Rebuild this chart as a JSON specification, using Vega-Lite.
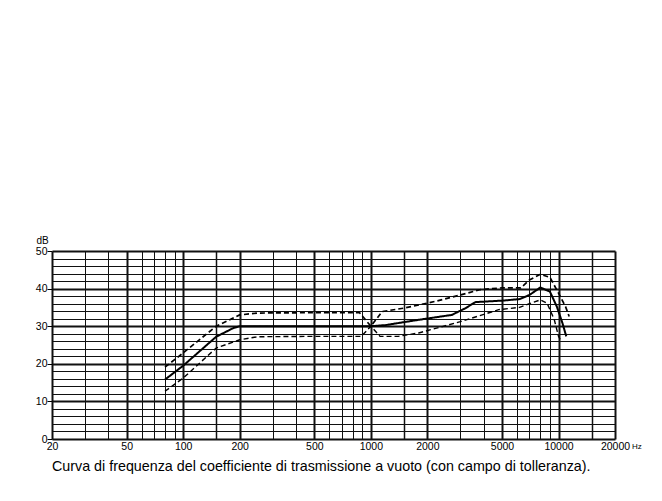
{
  "$schema": "https://vega.github.io/schema/vega-lite/v6.json",
  "autosize": {"type": "none"},
  "width": 563,
  "height": 188,
  "padding": {"left": 52, "top": 251, "right": 47, "bottom": 62},
  "background": "white",
  "config": {
    "view": {"stroke": null},
    "font": "Liberation Sans",
    "axis": {"labelFont": "Liberation Sans", "labelColor": "#000", "titleFont": "Liberation Sans"}
  },
  "title": {
    "text": "Curva di frequenza del coefficiente di trasmissione a vuoto (con campo di tolleranza).",
    "orient": "bottom",
    "anchor": "start",
    "frame": "group",
    "offset": 8,
    "fontSize": 14.3,
    "fontWeight": "normal",
    "color": "#000",
    "font": "Liberation Sans"
  },
  "datasets": {
    "curve": [
      {"serie": "nominale", "f": 80, "db": 15.8},
      {"serie": "nominale", "f": 100, "db": 19.5},
      {"serie": "nominale", "f": 150, "db": 27.2},
      {"serie": "nominale", "f": 185, "db": 29.5},
      {"serie": "nominale", "f": 200, "db": 30},
      {"serie": "nominale", "f": 500, "db": 30},
      {"serie": "nominale", "f": 1000, "db": 30},
      {"serie": "nominale", "f": 1200, "db": 30.3},
      {"serie": "nominale", "f": 1800, "db": 31.7},
      {"serie": "nominale", "f": 2700, "db": 33},
      {"serie": "nominale", "f": 3200, "db": 34.8},
      {"serie": "nominale", "f": 3600, "db": 36.4},
      {"serie": "nominale", "f": 5000, "db": 36.8},
      {"serie": "nominale", "f": 6200, "db": 37.2},
      {"serie": "nominale", "f": 7000, "db": 38.3},
      {"serie": "nominale", "f": 8000, "db": 40.3},
      {"serie": "nominale", "f": 9000, "db": 39.2},
      {"serie": "nominale", "f": 9800, "db": 35.2},
      {"serie": "nominale", "f": 10500, "db": 30.8},
      {"serie": "nominale", "f": 11000, "db": 27.3},
      {"serie": "superiore", "f": 80, "db": 19.1},
      {"serie": "superiore", "f": 100, "db": 22.9},
      {"serie": "superiore", "f": 150, "db": 30},
      {"serie": "superiore", "f": 200, "db": 33},
      {"serie": "superiore", "f": 250, "db": 33.5},
      {"serie": "superiore", "f": 500, "db": 33.6},
      {"serie": "superiore", "f": 870, "db": 33.6},
      {"serie": "superiore", "f": 1000, "db": 30},
      {"serie": "superiore", "f": 1150, "db": 33.9},
      {"serie": "superiore", "f": 1500, "db": 34.8},
      {"serie": "superiore", "f": 2200, "db": 36.6},
      {"serie": "superiore", "f": 3000, "db": 38.3},
      {"serie": "superiore", "f": 3800, "db": 39.7},
      {"serie": "superiore", "f": 5000, "db": 40.2},
      {"serie": "superiore", "f": 6300, "db": 40.2},
      {"serie": "superiore", "f": 7000, "db": 42.3},
      {"serie": "superiore", "f": 8000, "db": 43.8},
      {"serie": "superiore", "f": 9000, "db": 43},
      {"serie": "superiore", "f": 10000, "db": 38.8},
      {"serie": "superiore", "f": 10900, "db": 35.2},
      {"serie": "superiore", "f": 11400, "db": 32.6},
      {"serie": "inferiore", "f": 80, "db": 12.7},
      {"serie": "inferiore", "f": 100, "db": 16.2},
      {"serie": "inferiore", "f": 150, "db": 24.2},
      {"serie": "inferiore", "f": 200, "db": 26.4},
      {"serie": "inferiore", "f": 250, "db": 27.2},
      {"serie": "inferiore", "f": 500, "db": 27.3},
      {"serie": "inferiore", "f": 890, "db": 27.3},
      {"serie": "inferiore", "f": 1000, "db": 30},
      {"serie": "inferiore", "f": 1120, "db": 27.3},
      {"serie": "inferiore", "f": 1400, "db": 27.3},
      {"serie": "inferiore", "f": 1800, "db": 28.2},
      {"serie": "inferiore", "f": 3000, "db": 31.2},
      {"serie": "inferiore", "f": 4100, "db": 33.3},
      {"serie": "inferiore", "f": 4800, "db": 34.4},
      {"serie": "inferiore", "f": 6200, "db": 35},
      {"serie": "inferiore", "f": 7000, "db": 36},
      {"serie": "inferiore", "f": 8000, "db": 37},
      {"serie": "inferiore", "f": 8700, "db": 36.1},
      {"serie": "inferiore", "f": 9500, "db": 31.7},
      {"serie": "inferiore", "f": 10000, "db": 27.3},
      {"serie": "inferiore", "f": 10200, "db": 26.5}
    ],
    "unit": [{"f": 20000, "db": 0, "t": "Hz"}]
  },
  "encoding": {
    "x": {
      "field": "f", "type": "quantitative",
      "scale": {"type": "log", "domain": [20, 20000], "nice": false},
      "axis": {
        "title": null,
        "domain": false,
        "ticks": false,
        "values": [20,30,40,50,60,70,80,90,100,150,200,300,400,500,600,700,800,900,1000,1500,2000,3000,4000,5000,6000,7000,8000,9000,10000,15000,20000],
        "format": "d",
        "labelExpr": "indexof([20,50,100,200,500,1000,2000,5000,10000,20000], datum.value) >= 0 ? datum.label : ''",
        "labelFontSize": 10.5,
        "labelPadding": 2,
        "labelFlush": false,
        "labelOverlap": false,
        "grid": true,
        "gridColor": "#111",
        "gridOpacity": 1,
        "gridWidth": {"expr": "indexof([20,50,100,200,500,1000,2000,5000,10000,20000], datum.value) >= 0 ? 2 : (indexof([150,1500,15000], datum.value) >= 0 ? 1.5 : 1)"}
      }
    },
    "y": {
      "field": "db", "type": "quantitative",
      "scale": {"domain": [0, 50], "nice": false},
      "axis": {
        "title": "dB",
        "titleAngle": 0,
        "titleFontSize": 10,
        "titleFontWeight": "normal",
        "titleX": -16,
        "titleY": -6,
        "titleAlign": "left",
        "domain": false,
        "values": [0,2,4,6,8,10,12,14,16,18,20,22,24,26,28,30,32,34,36,38,40,42,44,46,48,50],
        "labelExpr": "datum.value % 10 == 0 ? datum.label : ''",
        "labelFontSize": 10.5,
        "labelPadding": 0,
        "labelOverlap": false,
        "tickSize": 5,
        "tickColor": "#000",
        "tickOpacity": {"expr": "datum.value % 10 == 0 ? 1 : 0"},
        "tickWidth": 1,
        "grid": true,
        "gridColor": "#111",
        "gridOpacity": 1,
        "gridWidth": {"expr": "datum.value % 10 == 0 ? 2 : 1"}
      }
    }
  },
  "layer": [
    {
      "data": {"name": "curve"},
      "mark": {"type": "line", "color": "#000", "clip": true},
      "encoding": {
        "detail": {"field": "serie"},
        "strokeDash": {
          "field": "serie", "type": "nominal",
          "scale": {"domain": ["nominale", "superiore", "inferiore"], "range": [[1, 0], [5, 3], [5, 3]]},
          "legend": null
        },
        "strokeWidth": {
          "field": "serie", "type": "nominal",
          "scale": {"domain": ["nominale", "superiore", "inferiore"], "range": [2, 1.4, 1.4]},
          "legend": null
        }
      }
    },
    {
      "data": {"name": "unit"},
      "mark": {"type": "text", "align": "left", "baseline": "top", "dx": 17, "dy": 4, "fontSize": 8, "color": "#000", "font": "Liberation Sans"},
      "encoding": {
        "text": {"field": "t"}
      }
    }
  ]
}
